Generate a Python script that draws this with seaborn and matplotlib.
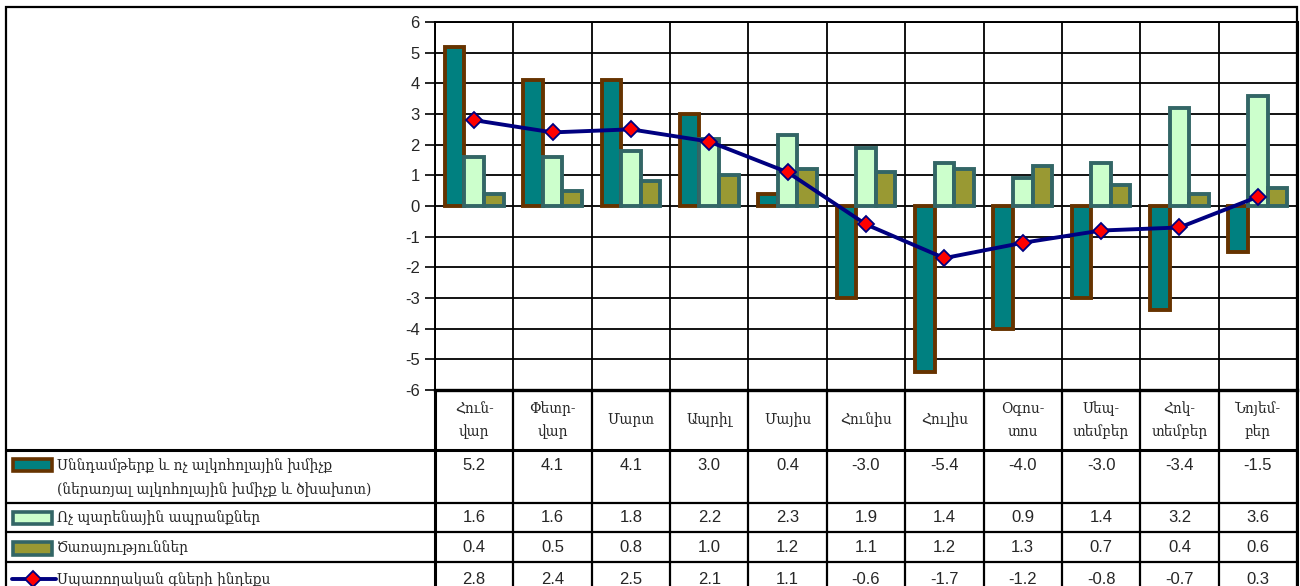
import numpy as np
import pandas as pd
import matplotlib
matplotlib.use("Agg")
import matplotlib.pyplot as plt
import seaborn as sns
from matplotlib.lines import Line2D
from matplotlib.patches import Rectangle
from matplotlib.transforms import blended_transform_factory

# ---------------- data ----------------
months = ["Հուն-\nվար", "Փետր-\nվար", "Մարտ", "Ապրիլ", "Մայիս", "Հունիս",
          "Հուլիս", "Օգոս-\nտոս", "Սեպ-\nտեմբեր", "Հոկ-\nտեմբեր", "Նոյեմ-\nբեր"]
series_names = ["Սննդամթերք և ոչ ալկոհոլային խմիչք\n(ներառյալ ալկոհոլային խմիչք և ծխախոտ)",
                "Ոչ պարենային ապրանքներ",
                "Ծառայություններ"]
line_name = "Սպառողական գների ինդեքս"
food = [5.2, 4.1, 4.1, 3.0, 0.4, -3.0, -5.4, -4.0, -3.0, -3.4, -1.5]
nonfood = [1.6, 1.6, 1.8, 2.2, 2.3, 1.9, 1.4, 0.9, 1.4, 3.2, 3.6]
services = [0.4, 0.5, 0.8, 1.0, 1.2, 1.1, 1.2, 1.3, 0.7, 0.4, 0.6]
cpi = [2.8, 2.4, 2.5, 2.1, 1.1, -0.6, -1.7, -1.2, -0.8, -0.7, 0.3]
yticks = list(range(-6, 7))

fills = ["#008080", "#CCFFCC", "#999933"]
edges = ["#663300", "#336666", "#336666"]
navy = "#000080"

# ---------------- style ----------------
sns.set_style("white")
plt.rcParams["font.family"] = ["Liberation Sans", "DejaVu Sans"]
arm_font = ["DejaVu Serif", "DejaVu Sans"]
arm_kw = dict(family=arm_font, fontsize=11, fontstretch="condensed")

W, H = 1300, 586
fig = plt.figure(figsize=(W / 100, H / 100), dpi=100)


def fx(x):
    return x / W


def fy(y):
    return 1 - y / H


ax = fig.add_axes([fx(435), fy(390), fx(1297) - fx(435), fy(22) - fy(390)])

df = pd.DataFrame({
    "month": months * 3,
    "series": [s for s in series_names for _ in months],
    "value": food + nonfood + services,
})
sns.barplot(data=df, x="month", y="value", hue="series", order=months,
            hue_order=series_names, palette=fills, width=0.75, gap=0,
            linewidth=2.8, legend=False, ax=ax, saturation=1)
for cont, ec in zip(ax.containers, edges):
    for p in cont:
        p.set_edgecolor(ec)
        p.set_linewidth(2.8)

dl = pd.DataFrame({"month": months, "cpi": cpi})
sns.pointplot(data=dl, x="month", y="cpi", order=months, color=navy,
              markers="D", linestyles="-", errorbar=None, ax=ax,
              markersize=8, linewidth=2.8)
for ln in ax.lines:
    if ln.get_marker() == "D":
        ln.set_markerfacecolor("#FF0000")
        ln.set_markeredgecolor(navy)
        ln.set_markeredgewidth(1.3)
        ln.set_zorder(5)

ax.set_xlim(-0.5, len(months) - 0.5)
ax.set_ylim(-6, 6)
ax.set_yticks(yticks)
ax.set_yticklabels([str(t) for t in yticks], fontsize=12)
ax.set_xticks(np.arange(-0.5, len(months), 1), minor=True)
ax.set_xticks([])
ax.set_xlabel("")
ax.set_ylabel("")
ax.tick_params(axis="y", which="major", length=7, width=1.2, color="black",
               direction="out", left=True, pad=4)
ax.tick_params(axis="x", which="minor", length=0)
ax.grid(True, which="major", axis="y", color="black", linewidth=1.3)
ax.grid(True, which="minor", axis="x", color="black", linewidth=1.3)
ax.set_axisbelow(True)
for side, sp in ax.spines.items():
    sp.set_visible(True)
    sp.set_color("black")
    sp.set_linewidth(1.4)
ax.spines["bottom"].set_linewidth(2.4)
ax.spines["right"].set_linewidth(2.2)

# ---------------- data table ----------------
trans = blended_transform_factory(ax.transData, fig.transFigure)
lw = 1.6

# outer frame
fig.add_artist(Rectangle((fx(6), fy(700)), fx(1297) - fx(6), fy(7) - fy(700),
                         transform=fig.transFigure, fill=False,
                         edgecolor="black", linewidth=1.6, clip_on=False))
# horizontal row lines
for yy, w in [(450, 2.2), (503, lw), (532, lw), (562, lw)]:
    fig.add_artist(Line2D([fx(6), fx(1297)], [fy(yy), fy(yy)],
                          transform=fig.transFigure, color="black", linewidth=w))
# vertical column lines
for i in range(len(months) + 1):
    fig.add_artist(Line2D([i - 0.5, i - 0.5], [fy(390), fy(700)],
                          transform=trans, color="black",
                          linewidth=2.2 if i in (0, len(months)) else lw))

# month header
for i, m in enumerate(months):
    if "\n" in m:
        a, b = m.split("\n")
        fig.text(i, fy(409), a, transform=trans, ha="center", va="center", **arm_kw)
        fig.text(i, fy(432), b, transform=trans, ha="center", va="center", **arm_kw)
    else:
        fig.text(i, fy(420), m, transform=trans, ha="center", va="center", **arm_kw)

# rows
row_vals = [food, nonfood, services, cpi]
row_y = [466, 518, 548, 580]
for vals, yy in zip(row_vals, row_y):
    for i, v in enumerate(vals):
        fig.text(i, fy(yy), f"{v:.1f}", transform=trans, ha="center",
                 va="center", fontsize=12)

# row labels and keys
key_y = [(459, 471), (512, 524), (542, 555)]
for (y0, y1), f, e in zip(key_y, fills, edges):
    fig.add_artist(Rectangle((fx(13), fy(y1)), fx(52) - fx(13), fy(y0) - fy(y1),
                             transform=fig.transFigure, facecolor=f,
                             edgecolor=e, linewidth=2.6))
l1, l2 = series_names[0].split("\n")
fig.text(fx(57), fy(466), l1, ha="left", va="center", **arm_kw)
fig.text(fx(57), fy(490), l2, ha="left", va="center", **arm_kw)
fig.text(fx(57), fy(518), series_names[1], ha="left", va="center", **arm_kw)
fig.text(fx(57), fy(548), series_names[2], ha="left", va="center", **arm_kw)
fig.text(fx(57), fy(580), line_name, ha="left", va="center", **arm_kw)
fig.add_artist(Line2D([fx(12), fx(56)], [fy(579), fy(579)], transform=fig.transFigure,
                      color=navy, linewidth=2.8))
fig.add_artist(Line2D([fx(33)], [fy(579)], transform=fig.transFigure, marker="D",
                      markersize=8, markerfacecolor="#FF0000", markeredgecolor=navy,
                      markeredgewidth=1.3, linestyle="none"))

fig.savefig("out.png", dpi=100)
